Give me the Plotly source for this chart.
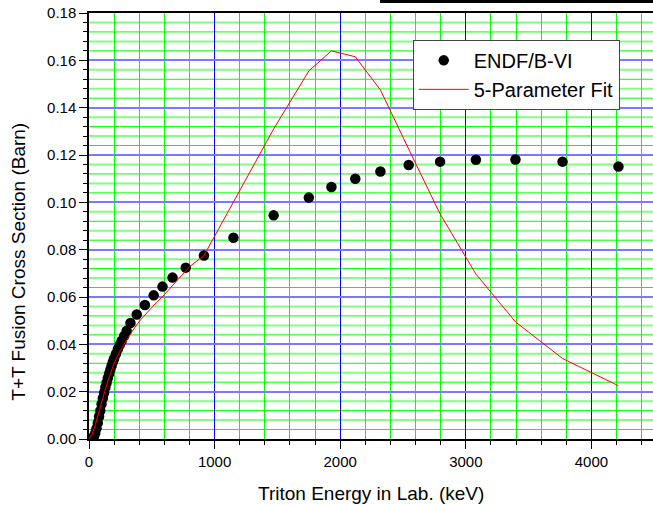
import plotly.graph_objects as go

# ENDF/B-VI evaluated T+T cross section
endf_energy_kev = [30, 40, 50, 60, 70, 80, 90, 100, 110, 120, 130, 140, 150, 160, 170,
                   180, 190, 200, 215, 230, 245, 260, 280, 300, 330, 380, 445, 515, 585,
                   665, 770, 915, 1150, 1470, 1750, 1930, 2120, 2320, 2545, 2795, 3080,
                   3395, 3770, 4215]
endf_sigma_barn = [0.0004, 0.0012, 0.0025, 0.0045, 0.0068, 0.0095, 0.0120, 0.0148, 0.0172,
                   0.0195, 0.0218, 0.0238, 0.0258, 0.0276, 0.0293, 0.0310, 0.0326, 0.0340,
                   0.0360, 0.0380, 0.0398, 0.0415, 0.0435, 0.0457, 0.0490, 0.0526, 0.0566,
                   0.0607, 0.0644, 0.0682, 0.0724, 0.0775, 0.0850, 0.0945, 0.1020, 0.1065,
                   0.1100, 0.1130, 0.1158, 0.1172, 0.1180, 0.1181, 0.1172, 0.1151]

# 5-parameter fit curve
fit_energy_kev = [0, 25, 50, 75, 100, 125, 150, 175, 200, 250, 300, 350, 400, 450, 500,
                  600, 700, 800, 915, 1150, 1470, 1750, 1930, 2120, 2320, 2545,
                  2795, 3080, 3395, 3770, 4215]
fit_sigma_barn = [0.0, 0.002, 0.006, 0.011, 0.016, 0.020, 0.0245, 0.0285, 0.032, 0.0375,
                  0.042, 0.046, 0.0497, 0.0527, 0.0556, 0.061, 0.0670, 0.0728, 0.0775,
                  0.1000, 0.1310, 0.1555, 0.1640, 0.1615, 0.1475, 0.1225, 0.0951,
                  0.0697, 0.0495, 0.0340, 0.0225]

x_ticks = [0, 1000, 2000, 3000, 4000]
y_ticks = [0.00, 0.02, 0.04, 0.06, 0.08, 0.10, 0.12, 0.14, 0.16, 0.18]

FONT = "Liberation Sans, Arial, sans-serif"
Y_MAX = 0.18
Y_MINOR = 0.004

fig = go.Figure()
fig.add_trace(go.Scatter(
    x=endf_energy_kev, y=endf_sigma_barn, mode="markers", name="ENDF/B-VI",
    marker=dict(color="black", size=10.5, line=dict(width=0)),
))
fig.add_trace(go.Scatter(
    x=fit_energy_kev, y=fit_sigma_barn, mode="lines", name="5-Parameter Fit",
    line=dict(color="#ff0000", width=1),
))

# horizontal minor grid lines: alternate crisp green and soft light green
grid_shapes = []
n_minor = int(round(Y_MAX / Y_MINOR))
for k in range(1, n_minor):
    if k % 5 == 0:
        continue
    soft = (k % 5) in (2, 4)
    grid_shapes.append(dict(
        type="line", xref="paper", yref="y", x0=0, x1=1, y0=k * Y_MINOR, y1=k * Y_MINOR,
        layer="below",
        line=dict(color="#80ff80" if soft else "#00ff00", width=2 if soft else 1),
    ))

fig.update_layout(
    width=653, height=505,
    margin=dict(l=89, r=0, t=13, b=66),
    paper_bgcolor="white", plot_bgcolor="white",
    font=dict(family=FONT, color="black", size=15),
    showlegend=True,
    legend=dict(
        x=0.574, y=0.937, xanchor="left", yanchor="top",
        bgcolor="white", bordercolor="#444444", borderwidth=1,
        font=dict(family=FONT, size=20, color="black"),
        itemwidth=50, tracegroupgap=0,
    ),
    xaxis=dict(
        range=[0, 4490], tickvals=x_ticks, ticktext=[str(v) for v in x_ticks],
        showline=True, linecolor="black", linewidth=1.5, mirror=True,
        ticks="outside", ticklen=8, tickwidth=1, tickcolor="black",
        showgrid=True, gridcolor="#0000ff", gridwidth=1,
        minor=dict(dtick=200, ticks="outside", ticklen=4, tickcolor="black",
                   showgrid=True, gridcolor="#00ff00", gridwidth=1),
        zeroline=False, tickfont=dict(size=15),
    ),
    yaxis=dict(
        range=[0, Y_MAX], tickvals=y_ticks, ticktext=[f"{v:.2f}" for v in y_ticks],
        showline=True, linecolor="black", linewidth=1.5,
        ticks="outside", ticklen=8, tickwidth=1, tickcolor="black",
        showgrid=True, gridcolor="#7a7aff", gridwidth=2,
        minor=dict(dtick=Y_MINOR, ticks="outside", ticklen=4, tickcolor="black",
                   showgrid=False),
        zeroline=False, tickfont=dict(size=15),
    ),
    annotations=[
        dict(text="Triton Energy in Lab. (keV)", xref="paper", yref="paper",
             x=0.5, y=-0.127, xanchor="center", yanchor="middle", showarrow=False,
             font=dict(family=FONT, size=19, color="black")),
        dict(text="T+T Fusion Cross Section (Barn)", xref="paper", yref="paper",
             x=-0.125, y=0.415, xanchor="center", yanchor="middle", showarrow=False,
             textangle=-90, font=dict(family=FONT, size=19, color="black")),
    ],
    shapes=grid_shapes + [
        dict(type="rect", xref="paper", yref="paper", x0=0.516, x1=1.0,
             y0=1.0235, y1=1.0305, fillcolor="black", line=dict(width=0)),
    ],
)

fig.write_html("out.html")
